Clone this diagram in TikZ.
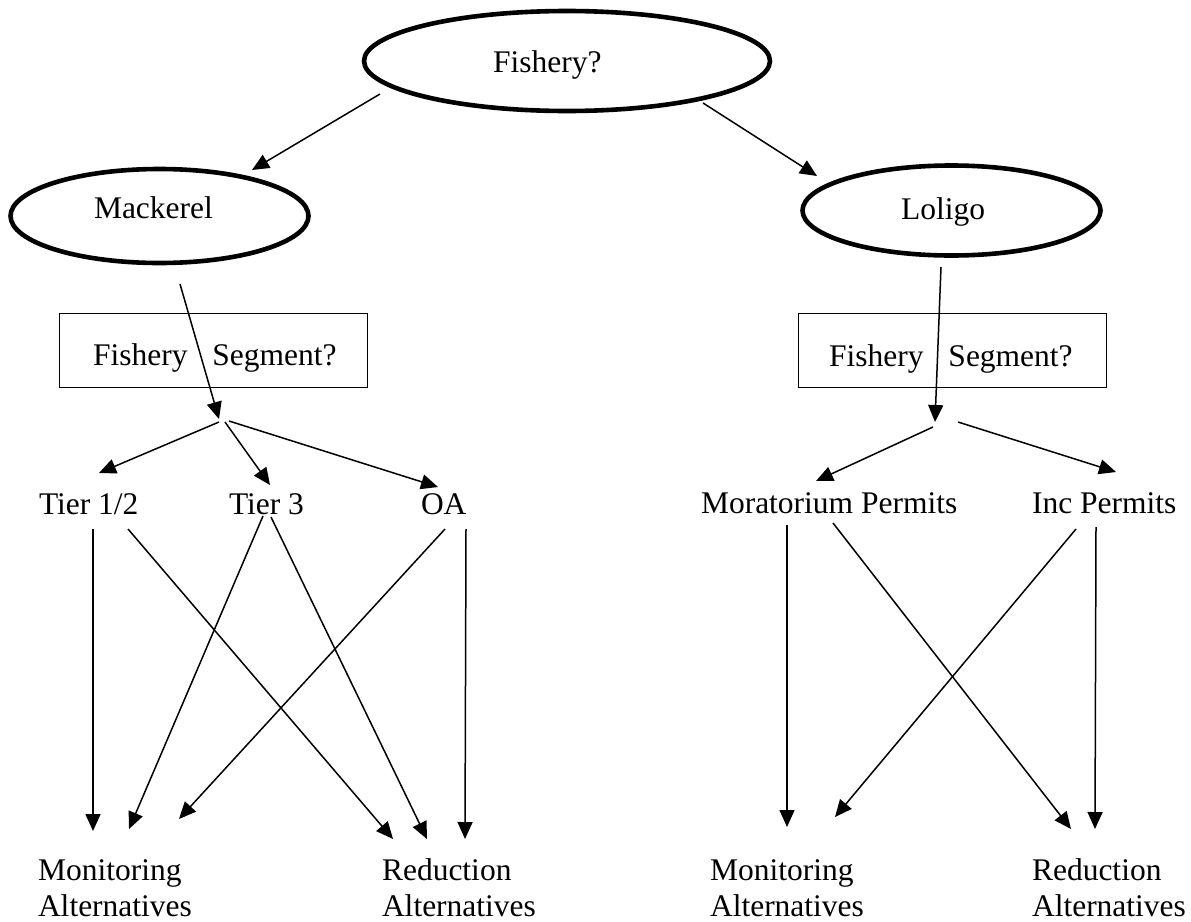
\documentclass[tikz,border=0pt]{standalone}
\usepackage{fontspec}
\setmainfont{Liberation Serif}
\usetikzlibrary{shapes.geometric,arrows.meta}
\begin{document}
\begin{tikzpicture}[x=1pt,y=-1pt,
  font=\fontsize{31.5}{36}\selectfont,
  oval/.style={ellipse, draw, line width=4.6pt, inner sep=0pt},
  qbox/.style={draw, line width=1.3pt, inner sep=0pt, minimum width=308pt, minimum height=74pt},
  lbl/.style={anchor=base west, inner sep=0pt, outer sep=0pt},
  twol/.style={anchor=base west, inner sep=0pt, outer sep=0pt, align=left, text depth=0pt},
  arr/.style={line width=1.5pt, -{Triangle[length=17pt,width=15pt]}}]
\useasboundingbox (0,0) rectangle (1191,921);

% shapes
\node[oval, minimum width=406pt, minimum height=100pt] (fishE) at (567,61) {};
\node[oval, minimum width=298pt, minimum height=94pt] (mackE) at (159.5,216) {};
\node[oval, minimum width=298pt, minimum height=90pt] (loliE) at (951.5,210.5) {};
\node[qbox] (segLbox) at (213.5,350.5) {};
\node[qbox] (segRbox) at (952.5,350.2) {};

% texts
\node[lbl] (fishT) at (493,72) {Fishery?};
\node[lbl] (mackT) at (94,218) {Mackerel};
\node[lbl] (loliT) at (901,219) {Loligo};
\node[lbl] (segLT) at (93,365) {Fishery\hspace{25pt}Segment?};
\node[lbl] (segRT) at (829,366) {Fishery\hspace{25pt}Segment?};
\node[lbl] (t12) at (39,514) {Tier 1/2};
\node[lbl] (t3) at (229,514) {Tier 3};
\node[lbl] (oa) at (421,514) {OA};
\node[lbl] (mor) at (701,513) {Moratorium Permits};
\node[lbl] (inc) at (1032,513) {Inc Permits};
\node[twol] (monL) at (38,916) {Monitoring\\Alternatives};
\node[twol] (redL) at (382,916) {Reduction\\Alternatives};
\node[twol] (monR) at (710,916) {Monitoring\\Alternatives};
\node[twol] (redR) at (1032,916) {Reduction\\Alternatives};

% connector end points
\coordinate (fishA) at (380,94);   \coordinate (mackIn) at (252,170);
\coordinate (fishB) at (703,103);  \coordinate (loliIn) at (817,176);
\coordinate (mackOut) at (180,284); \coordinate (brL) at (219,419);
\coordinate (brL1) at (219,422); \coordinate (brL2) at (225,422); \coordinate (brL3) at (229,421);
\coordinate (t12In) at (99,473); \coordinate (t3In) at (270,485); \coordinate (oaIn) at (438,487);
\coordinate (loliOut) at (941,267); \coordinate (brR) at (935,422);
\coordinate (brR1) at (933,427); \coordinate (brR2) at (958,422);
\coordinate (morIn) at (816,481); \coordinate (incIn) at (1116,472);

\coordinate (t12a) at (93,529);  \coordinate (t12b) at (128,529);
\coordinate (t3a) at (263,516);  \coordinate (t3b) at (271,517);
\coordinate (oaa) at (445,529);  \coordinate (oab) at (466,529);
\coordinate (monL1) at (93,831); \coordinate (monL2) at (129,829); \coordinate (monL3) at (179,819);
\coordinate (redL1) at (393,839); \coordinate (redL2) at (427,839); \coordinate (redL3) at (465,839);

\coordinate (mora) at (787,525); \coordinate (morb) at (833,523);
\coordinate (inca) at (1076,529); \coordinate (incb) at (1096,527);
\coordinate (monR1) at (787,827); \coordinate (monR2) at (835,817);
\coordinate (redR1) at (1071,829); \coordinate (redR2) at (1095,829);

% connectors
\draw[arr] (fishA) -- (mackIn);
\draw[arr] (fishB) -- (loliIn);
\draw[arr] (mackOut) -- (brL);
\draw[arr] (brL1) -- (t12In);
\draw[arr] (brL2) -- (t3In);
\draw[arr] (brL3) -- (oaIn);
\draw[arr] (loliOut) -- (brR);
\draw[arr] (brR1) -- (morIn);
\draw[arr] (brR2) -- (incIn);

\draw[arr] (t12a) -- (monL1);
\draw[arr] (t12b) -- (redL1);
\draw[arr] (t3a) -- (monL2);
\draw[arr] (t3b) -- (redL2);
\draw[arr] (oaa) -- (monL3);
\draw[arr] (oab) -- (redL3);

\draw[arr] (mora) -- (monR1);
\draw[arr] (morb) -- (redR1);
\draw[arr] (inca) -- (monR2);
\draw[arr] (incb) -- (redR2);
\end{tikzpicture}
\end{document}
